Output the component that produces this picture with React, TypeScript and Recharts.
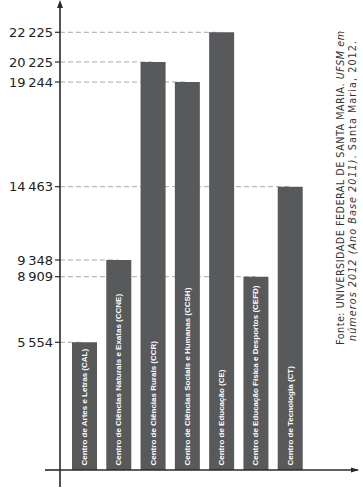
import { BarChart, Bar, XAxis, YAxis, ReferenceLine, LabelList } from 'recharts'

const centros = [
  'Centro de Artes e Letras (CAL)',
  'Centro de Ciências Naturais e Exatas (CCNE)',
  'Centro de Ciências Rurais (CCR)',
  'Centro de Ciências Sociais e Humanas (CCSH)',
  'Centro de Educação (CE)',
  'Centro de Educação Física e Desportos (CEFD)',
  'Centro de Tecnologia (CT)',
]
const siglas = ['CAL', 'CCNE', 'CCR', 'CCSH', 'CE', 'CEFD', 'CT']
const alunos = [5554, 9348, 20225, 19244, 22225, 8909, 14463]

// y ticks, and where the figure puts them as a share of the axis height (the axis is not drawn to scale)
const yTicks = [5554, 8909, 9348, 14463, 19244, 20225, 22225]
const yTickAt = [0.2746, 0.4157, 0.4516, 0.6093, 0.8344, 0.8774, 0.9413]
const Y_MAX = 24000

const W = 363
const H = 491
const AXIS_X = 60 // margin.left + yAxis width
const AXIS_Y = 470
const INK = '#2a2a2a'

const data = siglas.map((s, i) => ({ sigla: s, centro: centros[i], alunos: alunos[i] }))

// piecewise linear scale with the d3 interface recharts expects
function brokenScale(stops: number[], at: number[]): any {
  let dom = [stops[0], stops[stops.length - 1]]
  let rng = [0, 1]
  const s: any = (v: number) => {
    let i = 1
    while (i < stops.length - 1 && v > stops[i]) i++
    const t = (v - stops[i - 1]) / (stops[i] - stops[i - 1])
    const f = at[i - 1] + t * (at[i] - at[i - 1])
    return rng[0] + f * (rng[1] - rng[0])
  }
  s.domain = (d?: number[]) => (d ? ((dom = d.slice()), s) : dom.slice())
  s.range = (r?: number[]) => (r ? ((rng = r.slice()), s) : rng.slice())
  s.copy = () => brokenScale(stops, at).domain(dom).range(rng)
  s.ticks = () => stops.slice(1, -1)
  s.tickFormat = () => (v: number) => String(v)
  return s
}

const yScale = brokenScale([0, ...yTicks, Y_MAX], [0, ...yTickAt, 1])

const fmt = (v: number) => String(v).replace(/\B(?=(\d{3})+(?!\d))/g, '\u2009')

function BarLabel(p: any) {
  const cx = p.x + p.width / 2
  const by = p.y + p.height - 4.5
  return (
    <text
      x={cx}
      y={by}
      transform={`rotate(-90 ${cx} ${by})`}
      textAnchor="start"
      dominantBaseline="central"
      fill="#fff"
      fontSize={8}
      fontWeight="bold"
      fontFamily="'Liberation Sans', Arial, sans-serif"
    >
      {p.value}
    </text>
  )
}

export default function App() {
  return (
    <div style={{ position: 'absolute', left: 0, top: 0, width: W, height: H, background: '#fff' }}>
      <BarChart width={W} height={H} data={data} margin={{ top: 5, right: 5, bottom: 0, left: 0 }}>
        {data.map((d) => (
          <ReferenceLine
            key={d.sigla}
            segment={[{ x: siglas[0], y: d.alunos }, { x: d.sigla, y: d.alunos }]}
            zIndex={0}
            shape={(p: any) => (
              <line x1={AXIS_X} y1={p.y1} x2={p.x2} y2={p.y2} stroke="#a9a9a9" strokeWidth={1} strokeDasharray="5 3" />
            )}
          />
        ))}
        <XAxis
          dataKey="sigla"
          height={21}
          tick={false}
          tickLine={false}
          axisLine={{ stroke: INK, strokeWidth: 1.6 }}
          padding={{ left: 7, right: 51 }}
        />
        <YAxis
          type="number"
          domain={[0, Y_MAX]}
          scale={yScale}
          ticks={yTicks}
          interval={0}
          width={60}
          tickSize={5}
          tickMargin={2}
          tickFormatter={fmt}
          axisLine={{ stroke: INK, strokeWidth: 1.6 }}
          tickLine={{ stroke: INK, strokeWidth: 1.2 }}
          tick={{ fill: '#222', fontSize: 13, fontFamily: "'DejaVu Sans', Verdana, sans-serif" }}
        />
        <Bar dataKey="alunos" fill="#58595b" barSize={25} isAnimationActive={false}>
          <LabelList dataKey="centro" content={BarLabel} />
        </Bar>
      </BarChart>

      {/* axis arrows + source note */}
      <svg width={W} height={H} style={{ position: 'absolute', left: 0, top: 0, pointerEvents: 'none' }}>
        <line x1={AXIS_X} y1={AXIS_Y} x2={AXIS_X} y2={487} stroke={INK} strokeWidth={1.6} />
        <line x1={45} y1={AXIS_Y} x2={AXIS_X} y2={AXIS_Y} stroke={INK} strokeWidth={1.6} />
        <polygon points={`${AXIS_X},0 ${AXIS_X - 3},8 ${AXIS_X + 3},8`} fill={INK} />
        <polygon points={`359,${AXIS_Y} 351,${AXIS_Y - 2.6} 351,${AXIS_Y + 2.6}`} fill={INK} />
        <g fontFamily="'DejaVu Sans', Verdana, sans-serif" fontSize={9.6} fill="#333">
          <text transform="translate(340 345) rotate(-90)" dominantBaseline="central" textLength={314} lengthAdjust="spacing">
            Fonte: UNIVERSIDADE FEDERAL DE SANTA MARIA. <tspan fontStyle="italic">UFSM em</tspan>
          </text>
          <text transform="translate(352 341) rotate(-90)" dominantBaseline="central" textLength={300} lengthAdjust="spacing">
            <tspan fontStyle="italic">números 2012 (Ano Base 2011)</tspan>. Santa Maria, 2012.
          </text>
        </g>
      </svg>
    </div>
  )
}
